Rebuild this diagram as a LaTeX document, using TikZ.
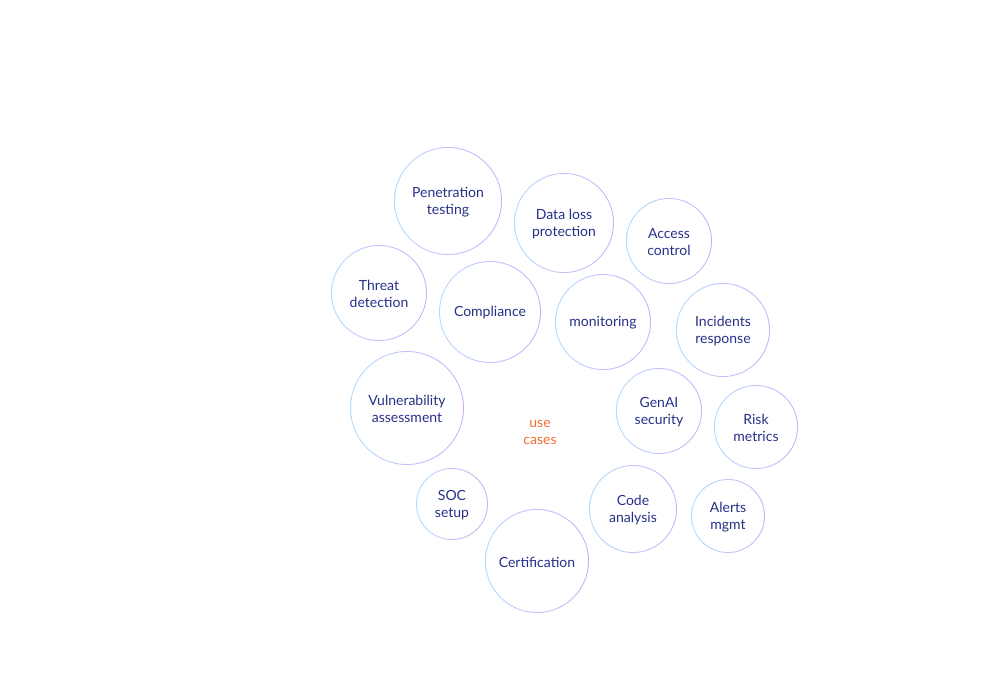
\documentclass[tikz,border=0pt]{standalone}
\usepackage{fontspec}
\setmainfont{Lato}
\usetikzlibrary{positioning}
\definecolor{Ink}{RGB}{38,48,135}
\definecolor{RingBlue}{RGB}{178,220,252}
\definecolor{RingPurple}{RGB}{212,172,248}
\definecolor{Tangerine}{RGB}{240,110,50}
\tikzset{
  bubble/.style={circle,draw=none,align=center,text=Ink,
                 font=\fontsize{14}{17}\selectfont,inner sep=0pt},
  ring/.style={left color=RingBlue,right color=RingPurple,even odd rule},
  hub/.style={align=center,text=Tangerine,font=\fontsize{14}{17}\selectfont},
}
% bubble: name, x, y, radius, label
\newcommand{\bubble}[5]{%
  \node[bubble,minimum size=#4*2pt,yshift=-1pt] (#1) at (#2,#3) {#5};
  \shade[ring] (#2,#3) circle (#4pt) circle (#4pt-0.9pt);
}

\begin{document}
\begin{tikzpicture}[x=1pt,y=-1pt]
  \useasboundingbox (0,0) rectangle (1000,699);
  \bubble{pentest}{448}{201}{54}{Penetration\\testing}
  \bubble{dlp}{564}{223}{50}{Data loss\\protection}
  \bubble{access}{669}{241}{43}{Access\\control}
  \bubble{threat}{379}{293}{48}{Threat\\detection}
  \bubble{compliance}{490}{312}{51}{Compliance}
  \bubble{monitor}{603}{322}{48}{monitoring}
  \bubble{incident}{723}{330}{47}{Incidents\\response}
  \bubble{vuln}{407}{408}{57}{Vulnerability\\assessment}
  \bubble{genai}{659}{411}{43}{GenAI\\security}
  \bubble{risk}{756}{427}{42}{Risk\\metrics}
  \bubble{soc}{452}{504}{36}{SOC\\setup}
  \bubble{code}{633}{509}{44}{Code\\analysis}
  \bubble{alerts}{728}{516}{37}{Alerts\\mgmt}
  \bubble{cert}{537}{561}{52}{Certification}
  \node[hub] (usecases) at (540,432) {use\\cases};
\end{tikzpicture}
\end{document}
